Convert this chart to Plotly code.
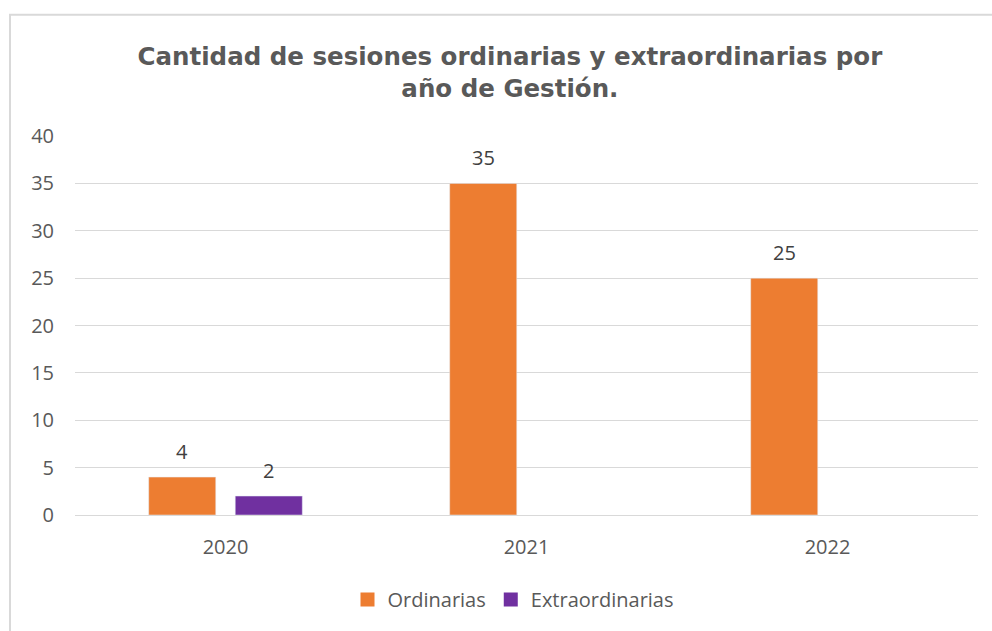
import plotly.graph_objects as go

years = ["2020", "2021", "2022"]
ordinarias = [4, 35, 25]
extraordinarias = [2, None, None]
y_ticks = [0, 5, 10, 15, 20, 25, 30, 35, 40]
series = [("Ordinarias", ordinarias, "#ED7D31"), ("Extraordinarias", extraordinarias, "#7030A0")]

W, H = 992, 631
ml, mr, mt, mb = 75, 14, 136, 114
pw, ph = W - ml - mr, H - mt - mb

lab_font = dict(size=20, color="#404040", family="Open Sans")

fig = go.Figure()
for name, vals, col in series:
    fig.add_trace(go.Bar(x=years, y=vals, name=name, marker=dict(color=col), showlegend=False))
# legend entries with larger square swatches
for name, vals, col in series:
    fig.add_trace(go.Scatter(x=[None], y=[None], mode="markers", name=name,
                             marker=dict(symbol="square", size=14, color=col)))

# data labels (placed above each bar, offset to the bar's slot within the group)
slot_px = 86.5
for (name, vals, col), dx in zip(series, (-slot_px / 2, slot_px / 2)):
    for i, v in enumerate(vals):
        if v is None:
            continue
        fig.add_annotation(x=i, y=v, xref="x", yref="y", text=str(v), showarrow=False,
                           xshift=dx, yshift=26, yanchor="middle", font=lab_font)

fig.update_layout(
    width=W, height=H,
    margin=dict(l=ml, r=mr, t=mt, b=mb),
    paper_bgcolor="white", plot_bgcolor="white",
    barmode="group", bargap=0.425, bargroupgap=0.225,
    title=dict(
        text="Cantidad de sesiones ordinarias y extraordinarias por<br>año de Gestión.",
        x=0.514, xanchor="center", y=1 - 65 / H, yanchor="middle",
        font=dict(family="DejaVu Sans", size=24.5, color="#595959", weight="bold"),
    ),
    xaxis=dict(
        type="category", categoryorder="array", categoryarray=years,
        range=[-0.5, len(years) - 0.5],
        showgrid=False, showline=False, ticks="", ticklabelstandoff=18,
        tickfont=dict(family="Open Sans", size=20, color="#595959"),
    ),
    yaxis=dict(
        range=[0, 40], tickvals=y_ticks, showgrid=True, gridcolor="#D9D9D9", gridwidth=1,
        zeroline=True, zerolinecolor="#D9D9D9", zerolinewidth=1,
        showline=False, ticks="", ticklabelstandoff=20,
        tickfont=dict(family="Open Sans", size=20, color="#595959"),
    ),
    legend=dict(
        orientation="h", x=(513 - ml) / pw, xanchor="center", y=-(602 - 517) / ph, yanchor="middle",
        font=dict(family="Open Sans", size=20, color="#595959"),
        itemsizing="trace", traceorder="normal", itemwidth=30,
    ),
    showlegend=True,
)

# chart frame (light gray border of the embedded chart)
x0 = (10 - ml) / pw
x1 = (W + 20 - ml) / pw
y_top = 1 + (mt - 14) / ph
y_bot = -(mb + 20) / ph
fig.add_shape(type="rect", xref="paper", yref="paper",
              x0=x0, x1=x1, y0=y_bot, y1=y_top,
              line=dict(color="#D9D9D9", width=2), fillcolor="rgba(0,0,0,0)", layer="below")

fig.write_html("out.html", config={"displayModeBar": False},
               post_script="document.body.style.margin='0';")
